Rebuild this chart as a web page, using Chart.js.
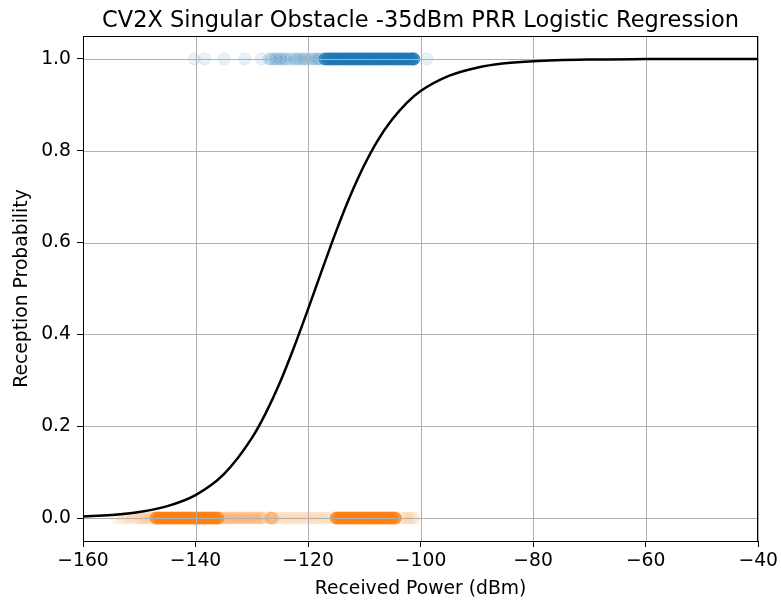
<!DOCTYPE html>
<html>
<head>
<meta charset="utf-8">
<script src="https://cdn.jsdelivr.net/npm/chart.js@4"></script>
<style>
  html, body { margin: 0; padding: 0; background: #fff; }
  #wrap { width: 781px; height: 603px; }
</style>
</head>
<body>
<div id="wrap"><canvas id="chart" width="781" height="603"></canvas></div>
<script>
const titleText = "CV2X Singular Obstacle -35dBm PRR Logistic Regression";
const xTicks = [-160, -140, -120, -100, -80, -60, -40];
const yTicks = [0, 0.2, 0.4, 0.6, 0.8, 1.0];

// fitted curve
const curveX = [-160, -155, -150, -145, -140, -135, -130, -127.5, -125, -122.5, -120, -117.5, -115,
  -112.5, -110, -107.5, -105, -102.5, -100, -95, -90, -85, -80, -70, -60, -50, -40];
const curveY = [0.0033, 0.0066, 0.013, 0.026, 0.050, 0.095, 0.174, 0.229, 0.295, 0.372, 0.455, 0.541, 0.625,
  0.702, 0.769, 0.825, 0.869, 0.904, 0.930, 0.963, 0.981, 0.9905, 0.9952, 0.9988, 0.9997, 0.9999, 1.0];

// received packets (y = 1)
const blueFaint = [-140.2, -138.4, -134.9, -131.3, -128.3, -98.9];
const blueMid = [-126.9, -126.5, -125.9, -125.6, -125, -124.8, -124.2, -123.8, -123.1, -122.4, -122,
  -121.5, -120.9, -120.6, -120, -119.4, -118.9, -118.5, -118.1, -117.8];
const blueDense = [-117, -116.5, -116, -115.5, -115, -114.5, -114, -113.5, -113, -112.5, -112, -111.5,
  -111, -110.5, -110, -109.5, -109, -108.5, -108, -107.5, -107, -106.5, -106, -105.5, -105, -104.5,
  -104, -103.5, -103, -102.5, -102, -101.5, -101.2];

// lost packets (y = 0)
const orangeFaint = [-154, -153, -152.5, -152, -151.5, -151, -150.5, -150, -149.7, -149.4, -149,
  -148.7, -148.4, -148, -147.7, -147.4,
  -125.5, -125, -124.5, -124, -123.5, -123, -122.5, -122, -121.5, -121, -120.5, -120, -119.5,
  -119, -118.5, -118, -117.5, -117, -116.5, -116,
  -103.4, -103, -102.6, -102.2, -101.8, -101.4, -101];
const orangeMid = [-135.4, -135, -134.6, -134.2, -133.8, -133.4, -133, -132.6, -132.2, -131.8,
  -131.4, -131, -130.6, -130.2, -129.8, -129.4, -129, -128.6, -128.2, -127.8,
  -126.8, -126.6, -126.5, -126.4, -126.2];
const orangeDense = [-147, -146.5, -146, -145.5, -145, -144.5, -144, -143.5, -143, -142.5, -142,
  -141.5, -141, -140.5, -140, -139.5, -139, -138.5, -138, -137.5, -137, -136.5, -136,
  -115, -114.5, -114, -113.5, -113, -112.5, -112, -111.5, -111, -110.5, -110, -109.5, -109,
  -108.5, -108, -107.5, -107, -106.5, -106, -105.5, -105, -104.5];

const BLUE = "31,119,180";
const ORANGE = "255,127,14";
const FONT = "DejaVu Sans";

function pts(xs, y) {
  return xs.map((x) => ({ x, y }));
}

function scatterSet(xs, y, rgb, alpha) {
  const c = `rgba(${rgb},${alpha})`;
  return {
    type: "scatter",
    data: pts(xs, y),
    backgroundColor: c,
    borderColor: c,
    borderWidth: 1,
    pointRadius: 6,
    pointHoverRadius: 6
  };
}

const minus = (s) => String(s).replace("-", "\u2212");

// grid goes above the scatter markers but under the curve, like matplotlib
const gridPlugin = {
  id: "gridUnderCurve",
  afterDatasetDraw(chart, args) {
    if (args.index !== 1) return;
    const { ctx, chartArea, scales } = chart;
    ctx.save();
    ctx.strokeStyle = "#b0b0b0";
    ctx.lineWidth = 1;
    ctx.beginPath();
    xTicks.forEach((v) => {
      const px = Math.round(scales.x.getPixelForValue(v)) + 0.5;
      ctx.moveTo(px, chartArea.top);
      ctx.lineTo(px, chartArea.bottom);
    });
    yTicks.forEach((v) => {
      const py = Math.round(scales.y.getPixelForValue(v)) + 0.5;
      ctx.moveTo(chartArea.left, py);
      ctx.lineTo(chartArea.right, py);
    });
    ctx.stroke();
    ctx.restore();
  }
};

const framePlugin = {
  id: "frameAndTitle",
  afterDatasetsDraw(chart) {
    const { ctx, chartArea: a } = chart;
    ctx.save();
    ctx.strokeStyle = "#000";
    ctx.lineWidth = 1;
    ctx.strokeRect(Math.round(a.left) + 0.5, Math.round(a.top) + 0.5,
      Math.round(a.right - a.left) - 1, Math.round(a.bottom - a.top));
    ctx.fillStyle = "#000";
    ctx.font = `22.5px '${FONT}'`;
    ctx.textAlign = "center";
    ctx.textBaseline = "alphabetic";
    ctx.fillText(titleText, (a.left + a.right) / 2, 27);
    ctx.restore();
  }
};

new Chart(document.getElementById("chart"), {
  type: "scatter",
  data: {
    datasets: [
      {
        type: "line",
        data: curveX.map((x, i) => ({ x, y: curveY[i] })),
        borderColor: "#000",
        borderWidth: 2.5,
        pointRadius: 0,
        fill: false,
        cubicInterpolationMode: "monotone"
      },
      scatterSet(blueDense, 1, BLUE, 0.75),
      scatterSet(blueMid, 1, BLUE, 0.15),
      scatterSet(blueFaint, 1, BLUE, 0.1),
      scatterSet(orangeDense, 0, ORANGE, 0.75),
      scatterSet(orangeMid, 0, ORANGE, 0.13),
      scatterSet(orangeFaint, 0, ORANGE, 0.07)
    ]
  },
  options: {
    responsive: false,
    animation: false,
    devicePixelRatio: 1,
    layout: { padding: { top: 36, right: 20, left: 0, bottom: 0 } },
    plugins: { legend: { display: false }, tooltip: { enabled: false }, title: { display: false } },
    scales: {
      x: {
        type: "linear",
        min: -160,
        max: -40,
        afterBuildTicks: (s) => { s.ticks = xTicks.map((v) => ({ value: v })); },
        afterFit: (s) => { s.height = 62; },
        border: { display: false },
        grid: { drawOnChartArea: false, tickColor: "#000", tickLength: 6 },
        ticks: {
          color: "#000",
          padding: 3,
          maxRotation: 0,
          font: { family: FONT, size: 18.75 },
          callback: (v) => minus(v)
        },
        title: {
          display: true,
          text: "Received Power (dBm)",
          color: "#000",
          font: { family: FONT, size: 18.75 },
          padding: { top: 0, bottom: 3 }
        }
      },
      y: {
        type: "linear",
        min: -0.05,
        max: 1.05,
        afterBuildTicks: (s) => { s.ticks = yTicks.map((v) => ({ value: v })); },
        afterFit: (s) => { s.width = 83; },
        border: { display: false },
        grid: { drawOnChartArea: false, tickColor: "#000", tickLength: 6 },
        ticks: {
          color: "#000",
          padding: 6,
          font: { family: FONT, size: 18.75 },
          callback: (v) => Number(v).toFixed(1)
        },
        title: {
          display: true,
          text: "Reception Probability",
          color: "#000",
          font: { family: FONT, size: 18.75 },
          padding: { top: 11, bottom: 0 }
        }
      }
    }
  },
  plugins: [gridPlugin, framePlugin]
});
</script>
</body>
</html>
